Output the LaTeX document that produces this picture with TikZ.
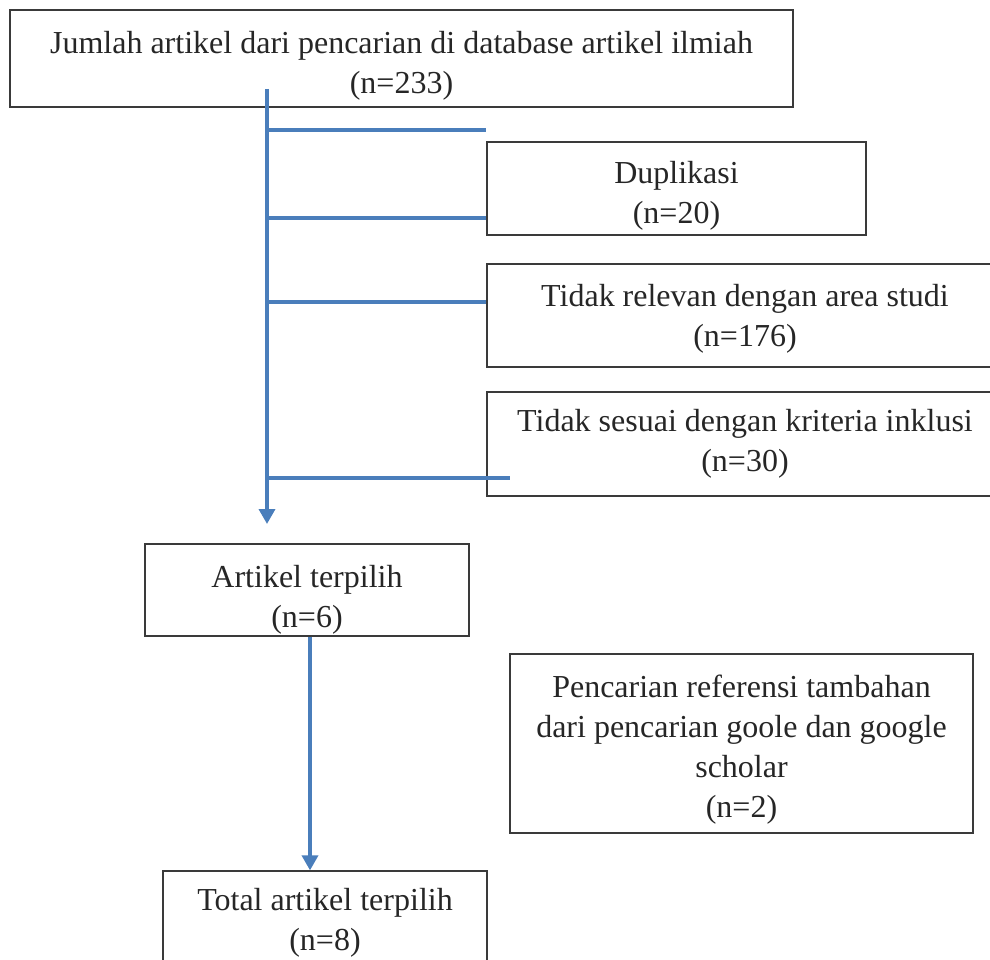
\documentclass[tikz,border=0pt]{standalone}
\usepackage{fontspec}
\setmainfont{Liberation Serif}
\usetikzlibrary{positioning,arrows.meta}
\definecolor{flowblue}{HTML}{4A7EBB}
\definecolor{boxgray}{HTML}{3A3A3A}
\newcommand{\boxgap}[1]{\rule{0pt}{#1}}

\begin{document}
\begin{tikzpicture}[x=1pt, y=-1pt,
    box/.style={draw=boxgray, line width=1.3pt, align=center, inner sep=0pt,
        text=black!85, font=\fontsize{32}{40}\selectfont},
    flow/.style={draw=flowblue, line width=3.5pt},
    flowarrow/.style={flow, -{Triangle[width=16pt,length=15pt]}}]
    \useasboundingbox (0,0) rectangle (990,960);

    % boxes
    \node [box, minimum width=783pt, minimum height=97pt] (search) at (401.5,58.5)
        {\boxgap{36pt}Jumlah artikel dari pencarian di database artikel ilmiah\\(n=233)};
    \node [box, minimum width=379pt, minimum height=93pt] (dup) at (676.5,188.5)
        {\boxgap{36pt}Duplikasi\\(n=20)};
    \node [box, minimum width=516pt, minimum height=103pt] (irrel) at (745,315.5)
        {\boxgap{28pt}Tidak relevan dengan area studi\\(n=176)};
    \node [box, minimum width=516pt, minimum height=104pt] (incl) at (745,444)
        {Tidak sesuai dengan kriteria inklusi\\(n=30)};
    \node [box, minimum width=324pt, minimum height=92pt] (sel) at (307,590)
        {\boxgap{42pt}Artikel terpilih\\(n=6)};
    \node [box, minimum width=463pt, minimum height=179pt] (extra) at (741.5,743.5)
        {\boxgap{34pt}Pencarian referensi tambahan\\dari pencarian goole dan google\\scholar\\(n=2)};
    \node [box, minimum width=324pt, minimum height=104pt] (total) at (325,923)
        {Total artikel terpilih\\(n=8)};

    % trunk and branches
    \coordinate (trunk) at (267,89);
    \coordinate (tip) at (267,524);
    \coordinate (b1) at (486,130);
    \coordinate (b4) at (510,478);

    \draw [flowarrow] (trunk) -- (tip);
    \draw [flow] (trunk |- b1) -- (b1);
    \draw [flow] (trunk |- 0,218) -- (dup.west |- 0,218);
    \draw [flow] (trunk |- 0,302) -- (irrel.west |- 0,302);
    \draw [flow] (trunk |- b4) -- (b4);

    \draw [flowarrow] ([xshift=3pt]sel.south) -- ([xshift=3pt]sel.south |- total.north);
\end{tikzpicture}
\end{document}
